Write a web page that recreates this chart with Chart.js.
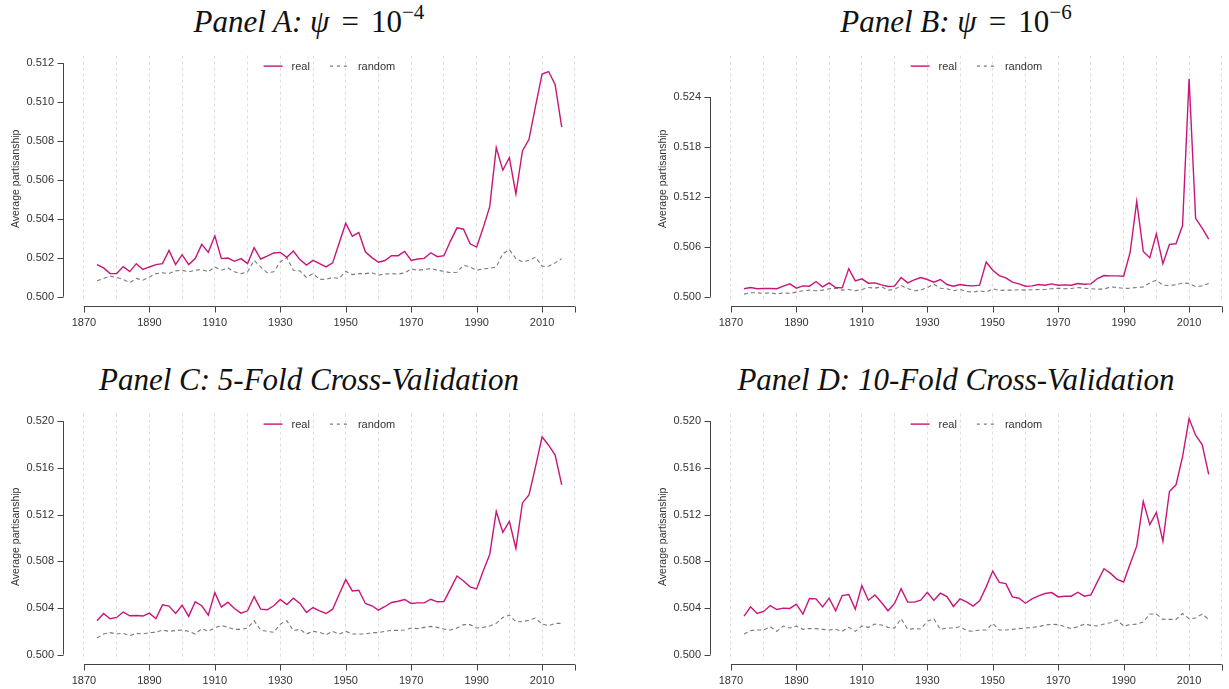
<!DOCTYPE html>
<html>
<head>
<meta charset="utf-8">
<script src="https://cdn.jsdelivr.net/npm/chart.js@4.4.1/dist/chart.umd.min.js"></script>
<style>
  html, body { margin: 0; padding: 0; background: #fff; overflow: hidden; width: 1229px; height: 689px; }
  .panel { position: absolute; width: 614px; height: 340px; }
  .panel canvas { position: absolute; left: 0; top: 40px; }
  .title { position: absolute; left: 0; top: 5px; width: 618px; text-align: center; white-space: nowrap;
           font-family: "Liberation Serif", "DejaVu Serif", serif; font-size: 31px; line-height: 34px; color: #111; }
  .title .eq { margin: 0 0.14em; }
  .title sup { font-size: 0.68em; line-height: 0; vertical-align: 0.62em; }
</style>
</head>
<body>

<div class="panel" style="left:0;top:0">
  <div class="title"><i>Panel A:</i> <i>ψ</i> <span class="eq">=</span> 10<sup>−4</sup></div>
  <canvas id="chartA" width="614" height="300"></canvas>
</div>
<div class="panel" style="left:647px;top:0">
  <div class="title"><i>Panel B:</i> <i>ψ</i> <span class="eq">=</span> 10<sup>−6</sup></div>
  <canvas id="chartB" width="614" height="300"></canvas>
</div>
<div class="panel" style="left:0;top:358px">
  <div class="title"><i>Panel C: 5-Fold Cross-Validation</i></div>
  <canvas id="chartC" width="614" height="300"></canvas>
</div>
<div class="panel" style="left:647px;top:358px">
  <div class="title"><i>Panel D: 10-Fold Cross-Validation</i></div>
  <canvas id="chartD" width="614" height="300"></canvas>
</div>

<script>
// years of each congress (every two years)
const years = [1874, 1876, 1878, 1880, 1882, 1884, 1886, 1888, 1890, 1892,
               1894, 1896, 1898, 1900, 1902, 1904, 1906, 1908, 1910, 1912,
               1914, 1916, 1918, 1920, 1922, 1924, 1926, 1928, 1930, 1932,
               1934, 1936, 1938, 1940, 1942, 1944, 1946, 1948, 1950, 1952,
               1954, 1956, 1958, 1960, 1962, 1964, 1966, 1968, 1970, 1972,
               1974, 1976, 1978, 1980, 1982, 1984, 1986, 1988, 1990, 1992,
               1994, 1996, 1998, 2000, 2002, 2004, 2006, 2008, 2010, 2012,
               2014, 2016];

// Panel A: psi = 1e-4
const realA = [0.50165, 0.50148, 0.50119, 0.50119, 0.50155, 0.50129, 0.50170, 0.50140, 0.50153, 0.50165,
               0.50170, 0.50238, 0.50165, 0.50216, 0.50165, 0.50196, 0.50269, 0.50228, 0.50313, 0.50196,
               0.50199, 0.50182, 0.50196, 0.50170, 0.50252, 0.50194, 0.50209, 0.50225, 0.50228, 0.50203,
               0.50235, 0.50191, 0.50163, 0.50187, 0.50170, 0.50153, 0.50174, 0.50276, 0.50378, 0.50311,
               0.50330, 0.50231, 0.50201, 0.50177, 0.50186, 0.50211, 0.50211, 0.50233, 0.50187, 0.50194,
               0.50197, 0.50226, 0.50206, 0.50211, 0.50286, 0.50354, 0.50347, 0.50272, 0.50255, 0.50354,
               0.50463, 0.50766, 0.50650, 0.50715, 0.50528, 0.50749, 0.50809, 0.50979, 0.51144, 0.51157,
               0.51089, 0.50871];
const randomA = [0.50082, 0.50094, 0.50106, 0.50099, 0.50089, 0.50073, 0.50094, 0.50085, 0.50102, 0.50119,
                 0.50123, 0.50119, 0.50133, 0.50136, 0.50128, 0.50136, 0.50140, 0.50128, 0.50153, 0.50136,
                 0.50148, 0.50128, 0.50119, 0.50128, 0.50187, 0.50153, 0.50124, 0.50128, 0.50179, 0.50201,
                 0.50136, 0.50133, 0.50099, 0.50119, 0.50089, 0.50090, 0.50099, 0.50094, 0.50131, 0.50114,
                 0.50119, 0.50119, 0.50123, 0.50111, 0.50116, 0.50119, 0.50116, 0.50123, 0.50143, 0.50136,
                 0.50140, 0.50145, 0.50136, 0.50131, 0.50123, 0.50126, 0.50162, 0.50153, 0.50136, 0.50143,
                 0.50146, 0.50153, 0.50221, 0.50242, 0.50196, 0.50179, 0.50187, 0.50204, 0.50157, 0.50157,
                 0.50174, 0.50196];

// Panel B: psi = 1e-6
const realB = [0.50096, 0.50111, 0.50096, 0.50100, 0.50100, 0.50096, 0.50127, 0.50155, 0.50103, 0.50131,
               0.50127, 0.50183, 0.50119, 0.50167, 0.50111, 0.50107, 0.50338, 0.50191, 0.50215, 0.50163,
               0.50167, 0.50143, 0.50123, 0.50127, 0.50231, 0.50167, 0.50203, 0.50231, 0.50207, 0.50175,
               0.50207, 0.50147, 0.50127, 0.50147, 0.50135, 0.50131, 0.50139, 0.50418, 0.50318, 0.50255,
               0.50227, 0.50175, 0.50155, 0.50127, 0.50131, 0.50147, 0.50139, 0.50155, 0.50139, 0.50143,
               0.50139, 0.50159, 0.50151, 0.50155, 0.50219, 0.50255, 0.50251, 0.50251, 0.50247, 0.50537,
               0.51146, 0.50545, 0.50470, 0.50756, 0.50398, 0.50629, 0.50637, 0.50856, 0.52619, 0.50943,
               0.50824, 0.50693];
const randomB = [0.50032, 0.50048, 0.50048, 0.50040, 0.50048, 0.50032, 0.50048, 0.50040, 0.50056, 0.50072,
                 0.50080, 0.50072, 0.50080, 0.50096, 0.50103, 0.50080, 0.50088, 0.50072, 0.50088, 0.50111,
                 0.50103, 0.50119, 0.50080, 0.50088, 0.50135, 0.50100, 0.50072, 0.50080, 0.50111, 0.50151,
                 0.50103, 0.50096, 0.50072, 0.50088, 0.50064, 0.50056, 0.50072, 0.50056, 0.50096, 0.50076,
                 0.50080, 0.50080, 0.50084, 0.50080, 0.50084, 0.50088, 0.50088, 0.50096, 0.50103, 0.50096,
                 0.50100, 0.50111, 0.50103, 0.50096, 0.50092, 0.50092, 0.50119, 0.50111, 0.50100, 0.50103,
                 0.50111, 0.50119, 0.50167, 0.50199, 0.50139, 0.50135, 0.50143, 0.50167, 0.50159, 0.50123,
                 0.50131, 0.50159];

// Panel C: 5-fold cross-validation
const realC = [0.50290, 0.50352, 0.50307, 0.50318, 0.50364, 0.50332, 0.50335, 0.50330, 0.50355, 0.50307,
               0.50426, 0.50415, 0.50352, 0.50423, 0.50327, 0.50452, 0.50418, 0.50338, 0.50531, 0.50406,
               0.50449, 0.50395, 0.50355, 0.50375, 0.50497, 0.50389, 0.50384, 0.50418, 0.50472, 0.50429,
               0.50483, 0.50438, 0.50361, 0.50403, 0.50375, 0.50352, 0.50389, 0.50517, 0.50642, 0.50545,
               0.50551, 0.50438, 0.50418, 0.50381, 0.50412, 0.50446, 0.50457, 0.50472, 0.50438, 0.50443,
               0.50443, 0.50474, 0.50452, 0.50455, 0.50563, 0.50673, 0.50631, 0.50580, 0.50563, 0.50716,
               0.50858, 0.51227, 0.51048, 0.51142, 0.50909, 0.51300, 0.51369, 0.51611, 0.51866, 0.51795,
               0.51710, 0.51455];
const randomC = [0.50142, 0.50176, 0.50188, 0.50176, 0.50182, 0.50162, 0.50182, 0.50176, 0.50188, 0.50190,
                 0.50210, 0.50199, 0.50205, 0.50210, 0.50199, 0.50176, 0.50222, 0.50199, 0.50227, 0.50250,
                 0.50233, 0.50216, 0.50216, 0.50227, 0.50290, 0.50210, 0.50199, 0.50190, 0.50261, 0.50290,
                 0.50205, 0.50216, 0.50176, 0.50199, 0.50190, 0.50170, 0.50199, 0.50176, 0.50199, 0.50176,
                 0.50176, 0.50176, 0.50188, 0.50188, 0.50199, 0.50207, 0.50207, 0.50210, 0.50227, 0.50222,
                 0.50233, 0.50241, 0.50233, 0.50219, 0.50210, 0.50227, 0.50256, 0.50256, 0.50227, 0.50233,
                 0.50244, 0.50267, 0.50318, 0.50338, 0.50281, 0.50281, 0.50295, 0.50313, 0.50261, 0.50247,
                 0.50267, 0.50267];

// Panel D: 10-fold cross-validation
const realD = [0.50330, 0.50409, 0.50352, 0.50369, 0.50420, 0.50386, 0.50398, 0.50395, 0.50432, 0.50347,
               0.50480, 0.50477, 0.50409, 0.50483, 0.50375, 0.50506, 0.50514, 0.50389, 0.50591, 0.50466,
               0.50511, 0.50446, 0.50375, 0.50438, 0.50565, 0.50449, 0.50449, 0.50466, 0.50534, 0.50463,
               0.50526, 0.50497, 0.50412, 0.50477, 0.50452, 0.50415, 0.50461, 0.50580, 0.50716, 0.50619,
               0.50608, 0.50494, 0.50483, 0.50440, 0.50477, 0.50503, 0.50523, 0.50531, 0.50494, 0.50500,
               0.50500, 0.50534, 0.50500, 0.50511, 0.50625, 0.50736, 0.50696, 0.50645, 0.50622, 0.50778,
               0.50929, 0.51313, 0.51114, 0.51219, 0.50972, 0.51398, 0.51455, 0.51696, 0.52023, 0.51881,
               0.51801, 0.51545];
const randomD = [0.50176, 0.50205, 0.50210, 0.50210, 0.50239, 0.50199, 0.50244, 0.50227, 0.50244, 0.50216,
                 0.50222, 0.50222, 0.50216, 0.50210, 0.50216, 0.50199, 0.50233, 0.50199, 0.50244, 0.50233,
                 0.50261, 0.50253, 0.50233, 0.50227, 0.50307, 0.50216, 0.50222, 0.50219, 0.50284, 0.50307,
                 0.50216, 0.50227, 0.50227, 0.50239, 0.50205, 0.50199, 0.50210, 0.50210, 0.50267, 0.50210,
                 0.50210, 0.50216, 0.50222, 0.50227, 0.50233, 0.50239, 0.50253, 0.50259, 0.50256, 0.50239,
                 0.50222, 0.50239, 0.50261, 0.50250, 0.50244, 0.50261, 0.50273, 0.50295, 0.50244, 0.50256,
                 0.50261, 0.50278, 0.50347, 0.50347, 0.50301, 0.50301, 0.50301, 0.50352, 0.50307, 0.50313,
                 0.50347, 0.50301];

// tick labels
const yTicksA = [0.500, 0.502, 0.504, 0.506, 0.508, 0.510, 0.512];
const yTicksB = [0.500, 0.506, 0.512, 0.518, 0.524];
const yTicksCD = [0.500, 0.504, 0.508, 0.512, 0.516, 0.520];
const xGridYears = [1870, 1880, 1890, 1900, 1910, 1920, 1930, 1940, 1950, 1960,
                    1970, 1980, 1990, 2000, 2010, 2020];
const xLabelYears = [1870, 1890, 1910, 1930, 1950, 1970, 1990, 2010];
const xTickMarks = [1870, 1890, 1910, 1930, 1950, 1970, 1990, 2010, 2020];

const seriesLabels = ['real', 'random'];

Chart.defaults.font.family = '"Liberation Sans", Arial, sans-serif';
Chart.defaults.color = '#333';

// R-like detached axes: line only between the first and last tick
const rAxes = {
    id: 'rAxes',
    afterDraw(chart, args, opts) {
        const { ctx, chartArea, scales: { x, y } } = chart;
        ctx.save();
        ctx.strokeStyle = '#444';
        ctx.lineWidth = 1;
        ctx.beginPath();
        // y axis
        const yt = opts.yTicks;
        const x0 = Math.round(chartArea.left) + 0.5;
        ctx.moveTo(x0, y.getPixelForValue(yt[0]));
        ctx.lineTo(x0, y.getPixelForValue(yt[yt.length - 1]));
        yt.forEach(v => {
            const p = Math.round(y.getPixelForValue(v)) + 0.5;
            ctx.moveTo(x0, p);
            ctx.lineTo(x0 - 6, p);
        });
        // x axis
        const y0 = Math.round(chartArea.bottom) + 4.5;
        ctx.moveTo(x.getPixelForValue(xTickMarks[0]), y0);
        ctx.lineTo(x.getPixelForValue(xTickMarks[xTickMarks.length - 1]), y0);
        xTickMarks.forEach(v => {
            const p = Math.round(x.getPixelForValue(v)) + 0.5;
            ctx.moveTo(p, y0);
            ctx.lineTo(p, y0 + 6);
        });
        ctx.stroke();
        ctx.restore();
    }
};

// borderless legend sitting inside the top of the plot
const rLegend = {
    id: 'rLegend',
    afterDraw(chart, args, opts) {
        const { ctx, chartArea, scales: { x } } = chart;
        ctx.save();
        ctx.font = '11px "Liberation Sans", Arial, sans-serif';
        const lineLen = 19, gap = 9, itemGap = 20;
        const items = chart.data.datasets.map(ds => ({ ds: ds, w: ctx.measureText(ds.label).width }));
        let total = itemGap * (items.length - 1);
        items.forEach(it => { total += lineLen + gap + it.w; });
        let cx = x.getPixelForValue(opts.centerYear) - total / 2;
        const cy = chartArea.top + 10.5;
        items.forEach(it => {
            ctx.strokeStyle = it.ds.borderColor;
            ctx.lineWidth = it.ds.borderWidth;
            ctx.setLineDash(it.ds.legendDash || []);
            ctx.beginPath();
            ctx.moveTo(cx, cy);
            ctx.lineTo(cx + lineLen, cy);
            ctx.stroke();
            ctx.setLineDash([]);
            ctx.fillStyle = '#333';
            ctx.textBaseline = 'middle';
            ctx.fillText(it.ds.label, cx + lineLen + gap, cy + 1);
            cx += lineLen + gap + it.w + itemGap;
        });
        ctx.restore();
    }
};

function toPoints(vals) {
    return years.map((yr, i) => ({ x: yr, y: vals[i] }));
}

function makePanel(id, real, random, yTicks, yMin, yMax) {
    const ctx = document.getElementById(id).getContext('2d');
    return new Chart(ctx, {
        type: 'line',
        data: {
            datasets: [{
                label: seriesLabels[0],
                data: toPoints(real),
                borderColor: '#c8157a',
                borderWidth: 1.4,
                pointRadius: 0,
                tension: 0
            }, {
                label: seriesLabels[1],
                data: toPoints(random),
                borderColor: '#7a7a7a',
                borderWidth: 1.1,
                borderDash: [4, 3],
                legendDash: [3, 4],
                pointRadius: 0,
                tension: 0
            }]
        },
        options: {
            responsive: false,
            animation: false,
            devicePixelRatio: 1,
            layout: { padding: { left: 0, right: 14, top: 14, bottom: 0 } },
            plugins: {
                legend: { display: false },
                tooltip: { enabled: false },
                rAxes: { yTicks: yTicks },
                rLegend: { centerYear: 1945 }
            },
            scales: {
                x: {
                    type: 'linear',
                    min: 1863.6,
                    max: 2027.7,
                    afterBuildTicks: s => { s.ticks = xGridYears.map(v => ({ value: v })); },
                    afterFit: s => { s.height = 38; },
                    ticks: {
                        autoSkip: false,
                        maxRotation: 0,
                        padding: 14,
                        font: { size: 11 },
                        color: '#333',
                        callback: v => xLabelYears.includes(v) ? String(v) : ''
                    },
                    grid: { color: '#dedede', lineWidth: 1, drawTicks: false },
                    border: { display: false, dash: [3, 3] }
                },
                y: {
                    min: yMin,
                    max: yMax,
                    afterBuildTicks: s => { s.ticks = yTicks.map(v => ({ value: v })); },
                    afterFit: s => { s.width = 63; },
                    ticks: {
                        padding: 9,
                        font: { size: 11 },
                        color: '#333',
                        callback: v => v.toFixed(3)
                    },
                    grid: { display: false, drawTicks: false },
                    border: { display: false },
                    title: {
                        display: true,
                        text: 'Average partisanship',
                        font: { size: 10.5 },
                        color: '#333',
                        padding: { top: 10, bottom: 0 }
                    }
                }
            }
        },
        plugins: [rAxes, rLegend]
    });
}

makePanel('chartA', realA, randomA, yTicksA, 0.49973, 0.51239);
makePanel('chartB', realB, randomB, yTicksB, 0.49937, 0.52898);
makePanel('chartC', realC, randomC, yTicksCD, 0.49953, 0.52066);
makePanel('chartD', realD, randomD, yTicksCD, 0.49953, 0.52066);
</script>
</body>
</html>
